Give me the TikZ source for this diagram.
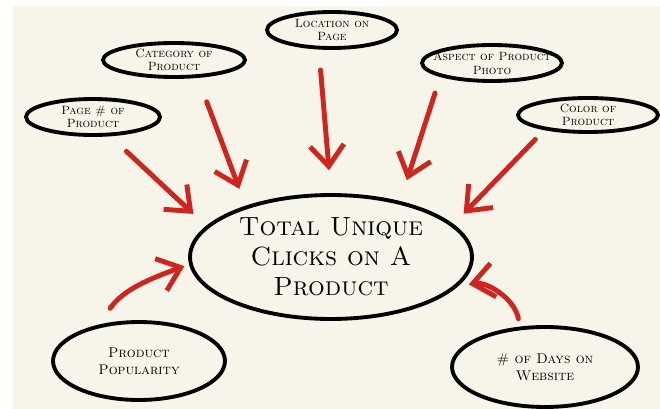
\documentclass[tikz,border=0pt]{standalone}
\usepackage{tikz}
\usetikzlibrary{arrows.meta,shapes.geometric}
\definecolor{paper}{RGB}{247,245,233}
\definecolor{pen}{RGB}{208,36,30}

\begin{document}
\begin{tikzpicture}[x=0.02cm, y=-0.02cm, every node/.style={font=\fontsize{6.8}{7.8}\selectfont\scshape}, >={Straight Barb[length=4.2mm, width=6.8mm]}, bub/.style={draw, ellipse, line width=2.2pt, inner sep=0pt}, txt/.style={align=center}, cause/.style={pen, line width=2.8pt, line cap=round, ->}]
	\useasboundingbox (0,0) rectangle (660,409);
	\fill[paper] (13,6) rectangle (660,409);
	\node[bub, minimum width=5.64cm, minimum height=2.48cm, label={[txt, font=\fontsize{15}{17}\selectfont\scshape]center:Total Unique\\Clicks on A\\Product}] (total) at (331,257) {};
	\node[bub, minimum width=2.68cm, minimum height=0.72cm, label={[txt]center:Page \# of\\Product}] (page) at (93,117) {};
	\node[bub, minimum width=2.84cm, minimum height=0.68cm, label={[txt]center:Category of\\Product}] (cat) at (174,60) {};
	\node[bub, minimum width=2.6cm, minimum height=0.72cm, label={[txt]center:Location on\\Page}] (loc) at (332,30) {};
	\node[bub, minimum width=2.8cm, minimum height=0.72cm, label={[txt]center:Aspect of Product\\Photo}] (asp) at (492,63) {};
	\node[bub, minimum width=2.8cm, minimum height=0.68cm, label={[txt]center:Color of\\Product}] (col) at (588,115) {};
	\node[bub, minimum width=3.44cm, minimum height=1.56cm, label={[txt, font=\fontsize{8}{9.5}\selectfont\scshape]center:Product\\Popularity}] (pop) at (139,361) {};
	\node[bub, minimum width=3.72cm, minimum height=1.6cm, label={[txt, font=\fontsize{8}{9.5}\selectfont\scshape]center:\# of Days on\\Website}] (days) at (545,367) {};
	\draw[cause, shorten <=0.44cm, shorten >=0.35cm] (page.-48) -- (total.166);
	\draw[cause, shorten <=0.51cm, shorten >=0.36cm] (cat.-37) -- (total.149);
	\draw[cause, shorten <=0.41cm, shorten >=0.46cm] (loc.-124) -- (total.90);
	\draw[cause, shorten <=0.34cm, shorten >=0.44cm] (asp.195) -- (total.39);
	\draw[cause, shorten <=0.26cm, shorten >=0.29cm] (col.199) -- (total.15);
	\draw[cause, shorten <=0.4cm, shorten >=0.1cm] (pop.138) to[out=55, in=200] (total.183);
	\draw[cause, shorten <=0.16cm, shorten >=0.22cm] (days.122) to[out=100, in=10] (total.-13);
\end{tikzpicture}
\end{document}
